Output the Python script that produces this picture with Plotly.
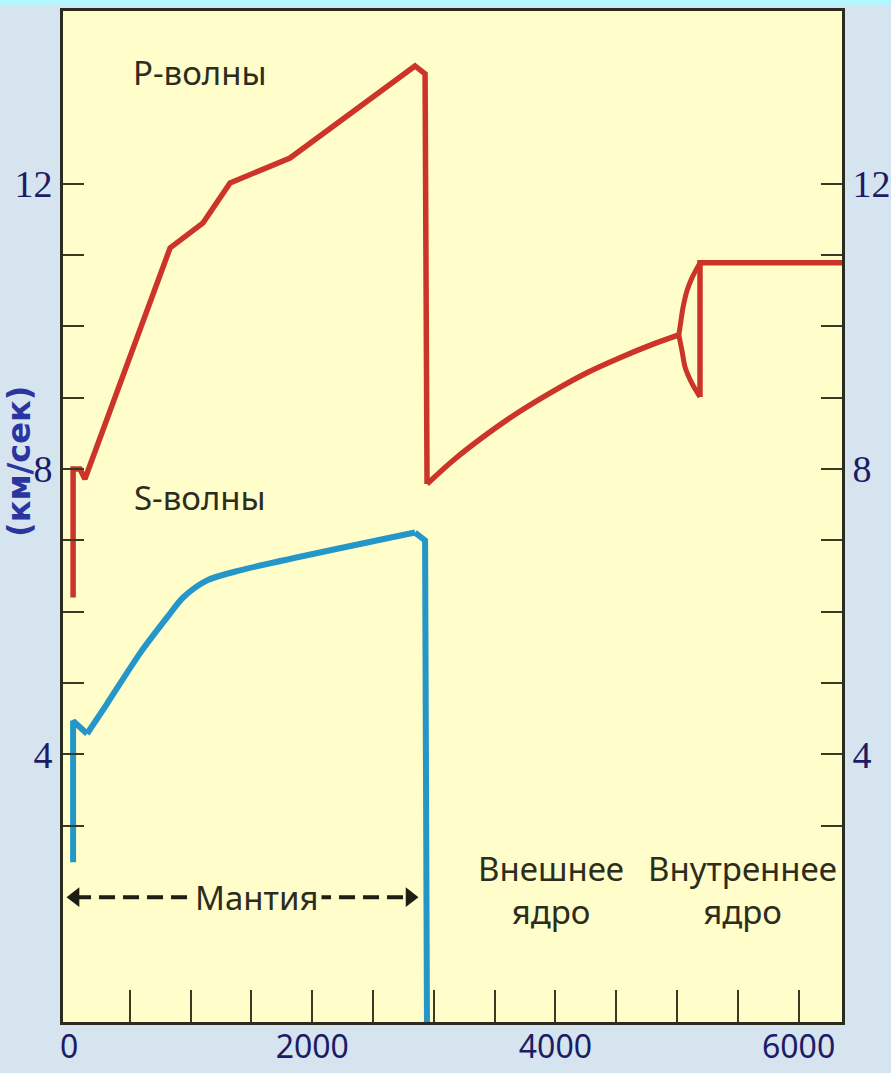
import plotly.graph_objects as go

# ---- data (depth in km, velocity in km/s) ----
# P-waves: crust + mantle, drop at the core-mantle boundary
P_MANTLE_DEPTH = [33, 33, 90, 130, 831, 1102, 1324, 1817, 2845, 2928, 2944]
P_MANTLE_VEL = [6.2, 8.0, 8.0, 7.86, 11.10, 11.45, 12.01, 12.36, 13.65, 13.54, 7.79]
# P-waves: outer core
P_OUTER_DEPTH = [2944, 3158, 3438, 3709, 3980, 4260, 4531, 4803, 5015]
P_OUTER_VEL = [7.79, 8.12, 8.49, 8.81, 9.09, 9.35, 9.56, 9.75, 9.88]
# inner-core transition lens
LENS_UP_DEPTH = [5015, 5030, 5049, 5082, 5123, 5189]
LENS_UP_VEL = [9.88, 10.05, 10.26, 10.50, 10.68, 10.89]
LENS_LOW_DEPTH = [5015, 5041, 5066, 5123, 5189]
LENS_LOW_VEL = [9.88, 9.66, 9.43, 9.20, 9.01]
# inner core
INNER_DEPTH = [5189, 5189, 6400]
INNER_VEL = [9.01, 10.89, 10.89]

# S-waves
S_CRUST_DEPTH = [33, 33, 148]
S_CRUST_VEL = [2.49, 4.47, 4.29]
S_MANTLE_DEPTH = [148, 312, 584, 806, 938, 1135, 1406, 2845]
S_MANTLE_VEL = [4.29, 4.71, 5.42, 5.92, 6.20, 6.44, 6.58, 7.11]
S_DROP_DEPTH = [2845, 2928, 2944]
S_DROP_VEL = [7.11, 7.00, 0.0]

X_TICKS = [0, 2000, 4000, 6000]
X_TICK_LABELS = ["0", "2000", "4000", "6000"]
X_MINOR = [500, 1000, 1500, 2000, 2500, 3000, 3500, 4000, 4500, 5000, 5500, 6000]
Y_TICKS = [3, 4, 5, 6, 7, 8, 9, 10, 11, 12]
Y_TICK_LABELS = ["", "4", "", "", "", "8", "", "", "", "12"]

MANTLE_X = [49, 2804]
MANTLE_Y = 2.0

X_RANGE = [-50, 6357]
Y_RANGE = [0.25, 14.42]

RED = "#cc3329"
BLUE = "#2596c8"
TXT = "#2d2d1e"
NAVY = "#1c1c66"
AXC = "#2b2b1f"
TICKC = "#3a3a22"
PLOT_BG = "#fffdc9"
PAPER_BG = "#d5e4ef"
LABEL_FONT = "Noto Sans, DejaVu Sans, sans-serif"

fig = go.Figure()


def line(x, y, color, width, shape="linear"):
    fig.add_trace(go.Scatter(x=x, y=y, mode="lines",
                             line=dict(color=color, width=width, shape=shape,
                                       smoothing=0.8),
                             hoverinfo="skip"))


line(P_MANTLE_DEPTH, P_MANTLE_VEL, RED, 5.5)
line(P_OUTER_DEPTH, P_OUTER_VEL, RED, 5.5, "spline")
line(LENS_UP_DEPTH, LENS_UP_VEL, RED, 5, "spline")
line(LENS_LOW_DEPTH, LENS_LOW_VEL, RED, 5, "spline")
line(INNER_DEPTH, INNER_VEL, RED, 5.5)
line(S_CRUST_DEPTH, S_CRUST_VEL, BLUE, 6)
line(S_MANTLE_DEPTH, S_MANTLE_VEL, BLUE, 6, "spline")
line(S_DROP_DEPTH, S_DROP_VEL, BLUE, 6)

# mantle dashed arrow
fig.add_trace(go.Scatter(x=MANTLE_X, y=[MANTLE_Y, MANTLE_Y], mode="lines+markers",
                         line=dict(color="#1e1e12", width=4, dash="16px,8px"),
                         marker=dict(symbol=["triangle-left", "triangle-right"],
                                     size=17, color="#1e1e12"),
                         hoverinfo="skip"))

# dummy traces for overlay axes
fig.add_trace(go.Scatter(x=[None], y=[None], xaxis="x2", yaxis="y",
                         showlegend=False, hoverinfo="skip"))
fig.add_trace(go.Scatter(x=[None], y=[None], xaxis="x", yaxis="y2",
                         showlegend=False, hoverinfo="skip"))

tickfont_y = dict(family="Liberation Serif, Times New Roman, serif", size=38, color=NAVY)

fig.update_layout(
    template="none",
    width=891, height=1073,
    margin=dict(l=63, r=49, t=11, b=51, autoexpand=False),
    paper_bgcolor=PAPER_BG, plot_bgcolor=PLOT_BG,
    showlegend=False,
    xaxis=dict(range=X_RANGE, tickvals=X_TICKS, ticktext=X_TICK_LABELS,
               ticks="", showgrid=False, zeroline=False, automargin=False,
               showline=True, linecolor=AXC, linewidth=3, mirror=True,
               ticklabelstandoff=-5,
               tickfont=dict(family=LABEL_FONT, size=32, color=NAVY)),
    xaxis2=dict(range=X_RANGE, overlaying="x", side="bottom", anchor="y",
                tickvals=X_MINOR, ticks="inside", ticklen=32, tickwidth=2,
                tickcolor=TICKC, showticklabels=False, showgrid=False,
                zeroline=False, showline=False, automargin=False),
    yaxis=dict(range=Y_RANGE, tickvals=Y_TICKS, ticktext=Y_TICK_LABELS,
               ticks="inside", ticklen=21, tickwidth=2, tickcolor=TICKC,
               showgrid=False, zeroline=False, automargin=False,
               showline=True, linecolor=AXC, linewidth=3,
               tickfont=tickfont_y),
    yaxis2=dict(range=Y_RANGE, overlaying="y", side="right", anchor="x",
                tickvals=Y_TICKS, ticktext=Y_TICK_LABELS,
                ticks="inside", ticklen=21, tickwidth=2, tickcolor=TICKC,
                showgrid=False, zeroline=False, automargin=False,
                showline=True, linecolor=AXC, linewidth=3,
                tickfont=tickfont_y),
)

# top cyan strip
fig.add_shape(type="rect", xref="paper", yref="paper", x0=-0.1, x1=1.1,
              y0=1.0 + 5 / 1011, y1=1.0 + 12 / 1011, fillcolor="#b4f6ff",
              line=dict(width=0), layer="below")

ann_font = dict(family=LABEL_FONT, size=33, color=TXT)
fig.add_annotation(x=1080, y=13.56, text="P-волны", showarrow=False, font=ann_font)
fig.add_annotation(x=1080, y=7.6, text="S-волны", showarrow=False, font=ann_font)
fig.add_annotation(x=1545, y=MANTLE_Y, text="Мантия", showarrow=False, font=ann_font,
                   bgcolor=PLOT_BG, borderpad=3)
fig.add_annotation(x=3960, y=2.1, text="Внешнее<br>ядро", showarrow=False,
                   font=ann_font)
fig.add_annotation(x=5540, y=2.1, text="Внутреннее<br>ядро", showarrow=False,
                   font=ann_font)

# y-axis title
fig.add_annotation(xref="paper", yref="y", x=(19 - 63) / 779, y=8.1,
                   text="(км/сек)", showarrow=False, textangle=-90,
                   xanchor="center", yanchor="middle",
                   font=dict(family="DejaVu Sans, sans-serif", size=32,
                             color="#2b35a0", weight="bold"))

fig.write_html(
    "out.html",
    config={"displayModeBar": False},
    post_script="document.body.style.margin='0';"
                "document.body.style.background='#d5e4ef';",
)
